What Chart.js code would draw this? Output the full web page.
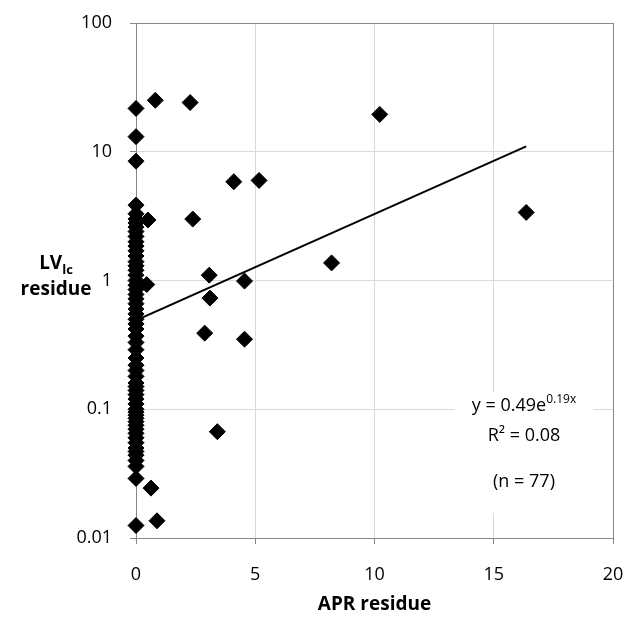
<!DOCTYPE html>
<html>
<head>
<meta charset="utf-8">
<script src="https://cdn.jsdelivr.net/npm/chart.js@4.4.1/dist/chart.umd.min.js"></script>
<style>
    html, body { margin: 0; padding: 0; background: #ffffff; }
    #wrap { width: 641px; height: 617px; }
</style>
</head>
<body>
<div id="wrap"><canvas id="grafica"></canvas></div>
<script>
// APR residue (x) and LVlc residue (y), one entry per sample (n = 77)
const aprResidue = [
    // columna en x = 0
    0, 0, 0, 0, 0, 0, 0, 0, 0, 0,
    0, 0, 0, 0, 0, 0, 0, 0, 0, 0,
    0, 0, 0, 0, 0, 0, 0, 0, 0, 0,
    0, 0, 0, 0, 0, 0, 0, 0, 0, 0,
    0, 0, 0, 0, 0, 0, 0, 0, 0, 0,
    0, 0, 0, 0,
    0, 0, 0, 0, 0,
    // resto de puntos
    0.81, 2.27, 10.22, 4.1, 5.16, 0.5, 2.38, 16.36, 8.2, 3.07,
    4.55, 0.45, 3.1, 2.88, 4.55, 3.41, 0.63, 0.88
];
const lvResidue = [
    3.85, 3.3, 3.0, 2.8, 2.6, 2.4, 2.2, 2.0, 1.85, 1.7,
    1.55, 1.4, 1.3, 1.2, 1.1, 1.0, 0.92, 0.85, 0.78, 0.72,
    0.66, 0.6, 0.55, 0.5, 0.46, 0.42, 0.37, 0.33, 0.29, 0.25,
    0.22, 0.2, 0.18, 0.16, 0.15, 0.14, 0.13, 0.12, 0.11, 0.1,
    0.095, 0.09, 0.085, 0.08, 0.075, 0.07, 0.065, 0.06, 0.055, 0.05,
    0.047, 0.044, 0.04, 0.036,
    21.7, 13.1, 8.45, 0.029, 0.0125,
    25.1, 24.1, 19.5, 5.85, 5.99, 2.95, 3.0, 3.38, 1.37, 1.1,
    0.99, 0.93, 0.73, 0.39, 0.35, 0.067, 0.0244, 0.0136
];

// Línea de tendencia exponencial (recta en escala log)
const trendX = [0, 16.36];
const trendY = [0.49, 11.0];

const xTicks = [0, 5, 10, 15, 20];
const yTicks = [0.01, 0.1, 1, 10, 100];

const axisGray = "#868686";
const gridGray = "#d9d9d9";
const fontFamily = "'Open Sans', 'DejaVu Sans', sans-serif";

// Etiqueta de la tendencia (fondo blanco) antes de dibujar los puntos
const trendLabelPlugin = {
    id: "trendLabelPlugin",
    beforeDatasetsDraw(chart) {
        const ctx = chart.ctx;
        const ex = 524;
        ctx.save();
        ctx.fillStyle = "#ffffff";
        ctx.fillRect(455, 392, 138, 121);

        ctx.fillStyle = "#000000";
        ctx.textBaseline = "middle";
        const eqFont = "18px " + fontFamily;
        const supFont = "12px " + fontFamily;
        ctx.font = eqFont;
        const wMain = ctx.measureText("y = 0.49e").width;
        ctx.font = supFont;
        const wSup = ctx.measureText("0.19x").width;
        const sx = ex - (wMain + wSup) / 2;
        ctx.textAlign = "left";
        ctx.font = eqFont;
        ctx.fillText("y = 0.49e", sx, 406);
        ctx.font = supFont;
        ctx.fillText("0.19x", sx + wMain, 400);
        ctx.textAlign = "center";
        ctx.font = eqFont;
        ctx.fillText("R\u00B2 = 0.08", ex, 436);
        ctx.fillText("(n = 77)", ex, 482);
        ctx.restore();
    }
};

// Títulos de los ejes
const titlesPlugin = {
    id: "titlesPlugin",
    afterDraw(chart) {
        const ctx = chart.ctx;
        const area = chart.chartArea;
        ctx.save();
        ctx.fillStyle = "#000000";
        ctx.textBaseline = "middle";

        // título eje X
        ctx.textAlign = "center";
        ctx.font = "bold 19px " + fontFamily;
        ctx.fillText("APR residue", (area.left + area.right) / 2, 605);

        // título eje Y: LV con subíndice lc
        const big = "bold 19px " + fontFamily;
        const small = "bold 13px " + fontFamily;
        ctx.font = big;
        const wLV = ctx.measureText("LV").width;
        ctx.font = small;
        const wLc = ctx.measureText("lc").width;
        const cx = 56;
        const startX = cx - (wLV + wLc) / 2;
        ctx.textAlign = "left";
        ctx.font = big;
        ctx.fillText("LV", startX, 264);
        ctx.font = small;
        ctx.fillText("lc", startX + wLV, 270);
        ctx.textAlign = "center";
        ctx.font = big;
        ctx.fillText("residue", cx, 290);
        ctx.restore();
    }
};

const puntos = aprResidue.map((x, i) => ({ x: x, y: lvResidue[i] }));
const tendencia = trendX.map((x, i) => ({ x: x, y: trendY[i] }));

new Chart(document.getElementById("grafica"), {
    type: "scatter",
    data: {
        datasets: [
            {
                type: "line",
                data: tendencia,
                borderColor: "#000000",
                borderWidth: 2,
                pointRadius: 0,
                fill: false
            },
            {
                data: puntos,
                clip: false,
                pointStyle: "rectRot",
                pointRadius: 8,
                pointBackgroundColor: "#000000",
                pointBorderColor: "#000000",
                pointBorderWidth: 1
            }
        ]
    },
    options: {
        responsive: true,
        maintainAspectRatio: false,
        animation: false,
        layout: { padding: { left: 0, right: 28, top: 23, bottom: 0 } },
        plugins: {
            legend: { display: false },
            tooltip: { enabled: false }
        },
        scales: {
            x: {
                type: "linear",
                min: 0,
                max: 20,
                afterBuildTicks(axis) {
                    axis.ticks = xTicks.map(v => ({ value: v }));
                },
                afterFit(scale) {
                    scale.height = 79;
                    scale.paddingLeft = 0;
                    scale.paddingRight = 0;
                },
                ticks: {
                    color: "#000000",
                    padding: 20,
                    font: { family: fontFamily, size: 18 }
                },
                grid: {
                    color: (c) => c.tick && c.tick.value === 20 ? axisGray : gridGray,
                    tickColor: axisGray,
                    tickLength: 6,
                    lineWidth: 1
                },
                border: { color: axisGray, width: 1 }
            },
            y: {
                type: "logarithmic",
                min: 0.01,
                max: 100,
                afterBuildTicks(axis) {
                    axis.ticks = yTicks.map(v => ({ value: v, major: true }));
                },
                afterFit(scale) {
                    scale.width = 136;
                    scale.paddingTop = 0;
                    scale.paddingBottom = 0;
                },
                ticks: {
                    color: "#000000",
                    padding: 18,
                    font: { family: fontFamily, size: 18 },
                    callback: (v) => String(v)
                },
                grid: {
                    color: (c) => c.tick && c.tick.value === 100 ? axisGray : gridGray,
                    tickColor: axisGray,
                    tickLength: 6,
                    lineWidth: 1
                },
                border: { color: axisGray, width: 1 }
            }
        }
    },
    plugins: [trendLabelPlugin, titlesPlugin]
});
</script>
</body>
</html>
